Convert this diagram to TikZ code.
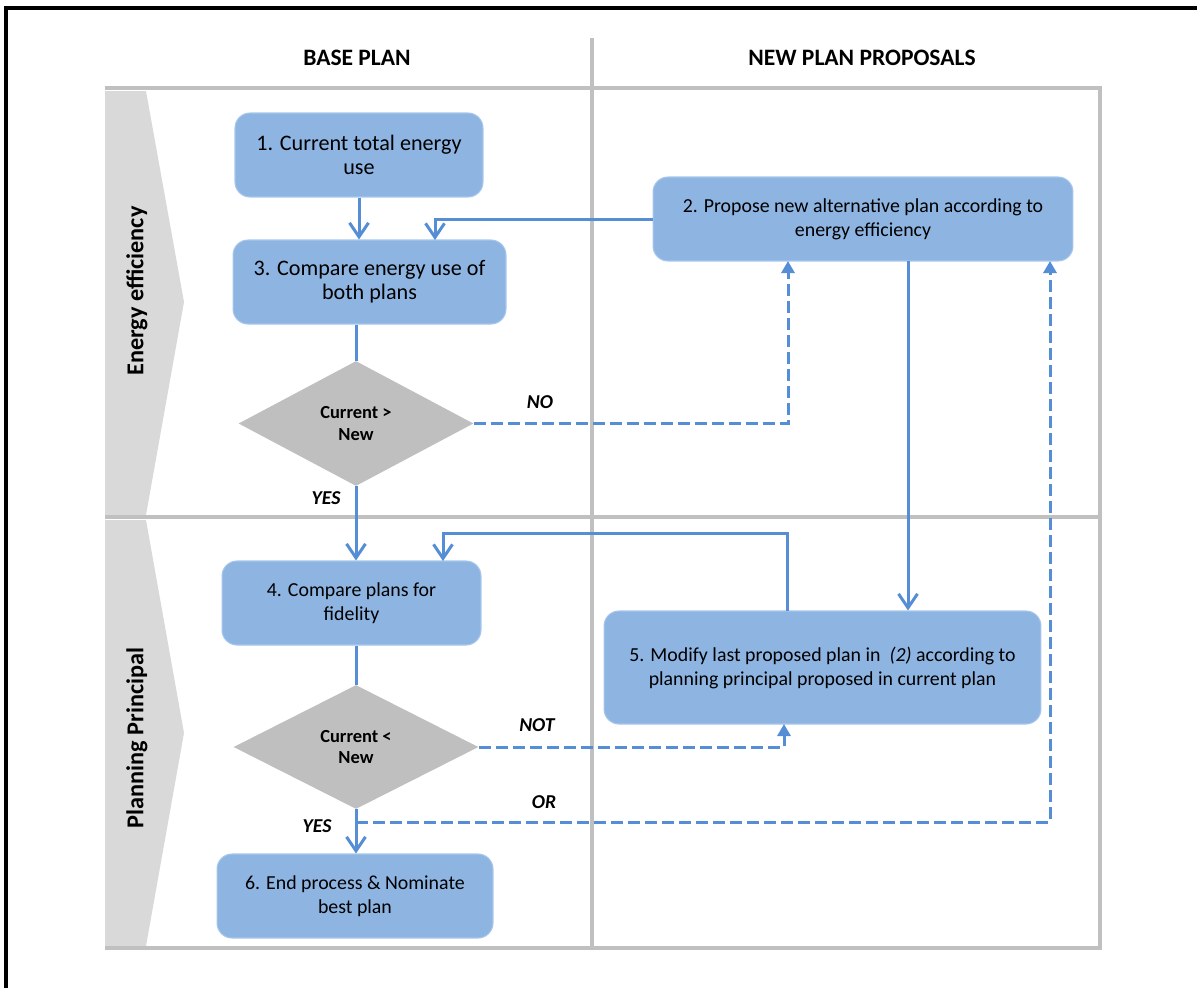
\documentclass[tikz,border=0pt]{standalone}
\usepackage{fontspec}
\setmainfont{Carlito}
\usetikzlibrary{arrows.meta,shapes.geometric}

\definecolor{lineblue}{RGB}{85,142,213}
\definecolor{boxblue}{RGB}{142,180,226}
\definecolor{boxedge}{RGB}{166,198,236}
\definecolor{diagray}{RGB}{191,191,191}
\definecolor{lanegray}{RGB}{217,217,217}
\definecolor{gridgray}{RGB}{192,192,192}

\begin{document}
\begin{tikzpicture}[x=0.02cm,y=-0.02cm,
  procbox/.style={rectangle, rounded corners=0.3cm, fill=boxblue, draw=boxedge,
    line width=0.6pt, align=center, inner sep=0pt,
    font=\fontsize{12.6}{13.6}\selectfont},
  procsmall/.style={procbox, font=\fontsize{11.3}{13.6}\selectfont},
  decision/.style={diamond, fill=diagray, inner sep=0pt, align=center,
    font=\bfseries\fontsize{10.5}{12.5}\selectfont},
  flowline/.style={draw=lineblue, line width=0.06cm},
  flow/.style={flowline, -{Straight Barb[length=0.28cm,width=0.38cm]}},
  altflow/.style={flowline, dash pattern=on 0.24cm off 0.1cm,
    -{Triangle[length=0.24cm,width=0.26cm]}},
  tag/.style={font=\bfseries\itshape\fontsize{11.2}{13}\selectfont},
  header/.style={font=\bfseries\fontsize{13.4}{15}\selectfont},
  lanelabel/.style={rotate=90, font=\bfseries\fontsize{13.8}{16}\selectfont},
  grid/.style={draw=gridgray, line width=0.09cm}
]
\useasboundingbox (0,0) rectangle (1197,988);

% page frame (top and left edges)
\draw[line width=0.08cm] (6,988) -- (6,8) -- (1197,8);

% swimlane tabs
\fill[lanegray] (105,91) -- (146,91) -- (184,302) -- (146,515) -- (105,515) -- cycle;
\fill[lanegray] (105,520) -- (146,520) -- (184,733) -- (146,946) -- (105,946) -- cycle;

% lane grid
\draw[grid] (105,88) -- (1100,88);
\draw[grid] (105,517) -- (1100,517);
\draw[grid] (105,948) -- (1100,948);
\draw[grid] (592,38) -- (592,950);
\draw[grid] (1100,86) -- (1100,950);

% column headers and lane titles
\node[header] (hbase) at (357,58) {BASE PLAN};
\node[header] (hnew) at (862,58) {NEW PLAN PROPOSALS};
\node[lanelabel] (lane1) at (137,291) {Energy efficiency};
\node[lanelabel] (lane2) at (137,738) {Planning Principal};

% process steps
\node[procbox, minimum width=4.96cm, minimum height=1.68cm] (b1) at (359,155)
  {1. Current total energy\\use};
\node[procsmall, minimum width=8.4cm, minimum height=1.68cm] (b2) at (863,219)
  {2. Propose new alternative plan according to\\energy efficiency};
\node[procbox, minimum width=5.46cm, minimum height=1.68cm] (b3) at (369.5,282)
  {3. Compare energy use of\\both plans};
\node[decision, minimum width=4.7cm, minimum height=2.5cm] (d1) at (356,423.5)
  {Current >\\New};
\node[procsmall, minimum width=5.18cm, minimum height=1.68cm] (b4) at (351.5,603)
  {4. Compare plans for\\fidelity};
\node[procsmall, minimum width=8.74cm, minimum height=2.26cm] (b5) at (822.5,667.5)
  {5. Modify last proposed plan in\ \ \textit{(2)} according to\\planning principal proposed in current plan};
\node[decision, minimum width=4.9cm, minimum height=2.48cm] (d2) at (356,747)
  {Current <\\New};
\node[procsmall, minimum width=5.52cm, minimum height=1.68cm] (b6) at (355,896)
  {6. End process \& Nominate\\best plan};

% routing points
\coordinate (in3) at (435,240);
\coordinate (no2) at (788,261);
\coordinate (out2) at (908,261);
\coordinate (out5) at (787,611);
\coordinate (turn5) at (787,533);
\coordinate (in4) at (443,561);
\coordinate (not5) at (784,724);
\coordinate (orfork) at (356,822);
\coordinate (orturn) at (1050,822);
\coordinate (or2) at (1050,261);

% connectors
\draw[flow] (b1.south) -- (b1.south |- b3.north);
\draw[flow] (b2.west) -| (in3);
\draw[flowline] (d1.north |- b3.south) -- (d1.north);
\draw[flow] (d1.south) -- (d1.south |- b4.north);
\draw[altflow] (d1.east) -| (no2);
\draw[flow] (out2) -- (out2 |- b5.north);
\draw[flow] (out5) -- (turn5) -| (in4);
\draw[flowline] (d2.north |- b4.south) -- (d2.north);
\draw[flow] (d2.south) -- (d2.south |- b6.north);
\draw[altflow] (d2.east) -| (not5);
\draw[altflow] (orfork) -- (orturn) -- (or2);

% branch labels
\node[tag] (lno) at (540,402) {NO};
\node[tag] (lyes1) at (326,498) {YES};
\node[tag] (lnot) at (537,725) {NOT};
\node[tag] (lor) at (544,802) {OR};
\node[tag] (lyes2) at (317,826) {YES};
\end{tikzpicture}
\end{document}
